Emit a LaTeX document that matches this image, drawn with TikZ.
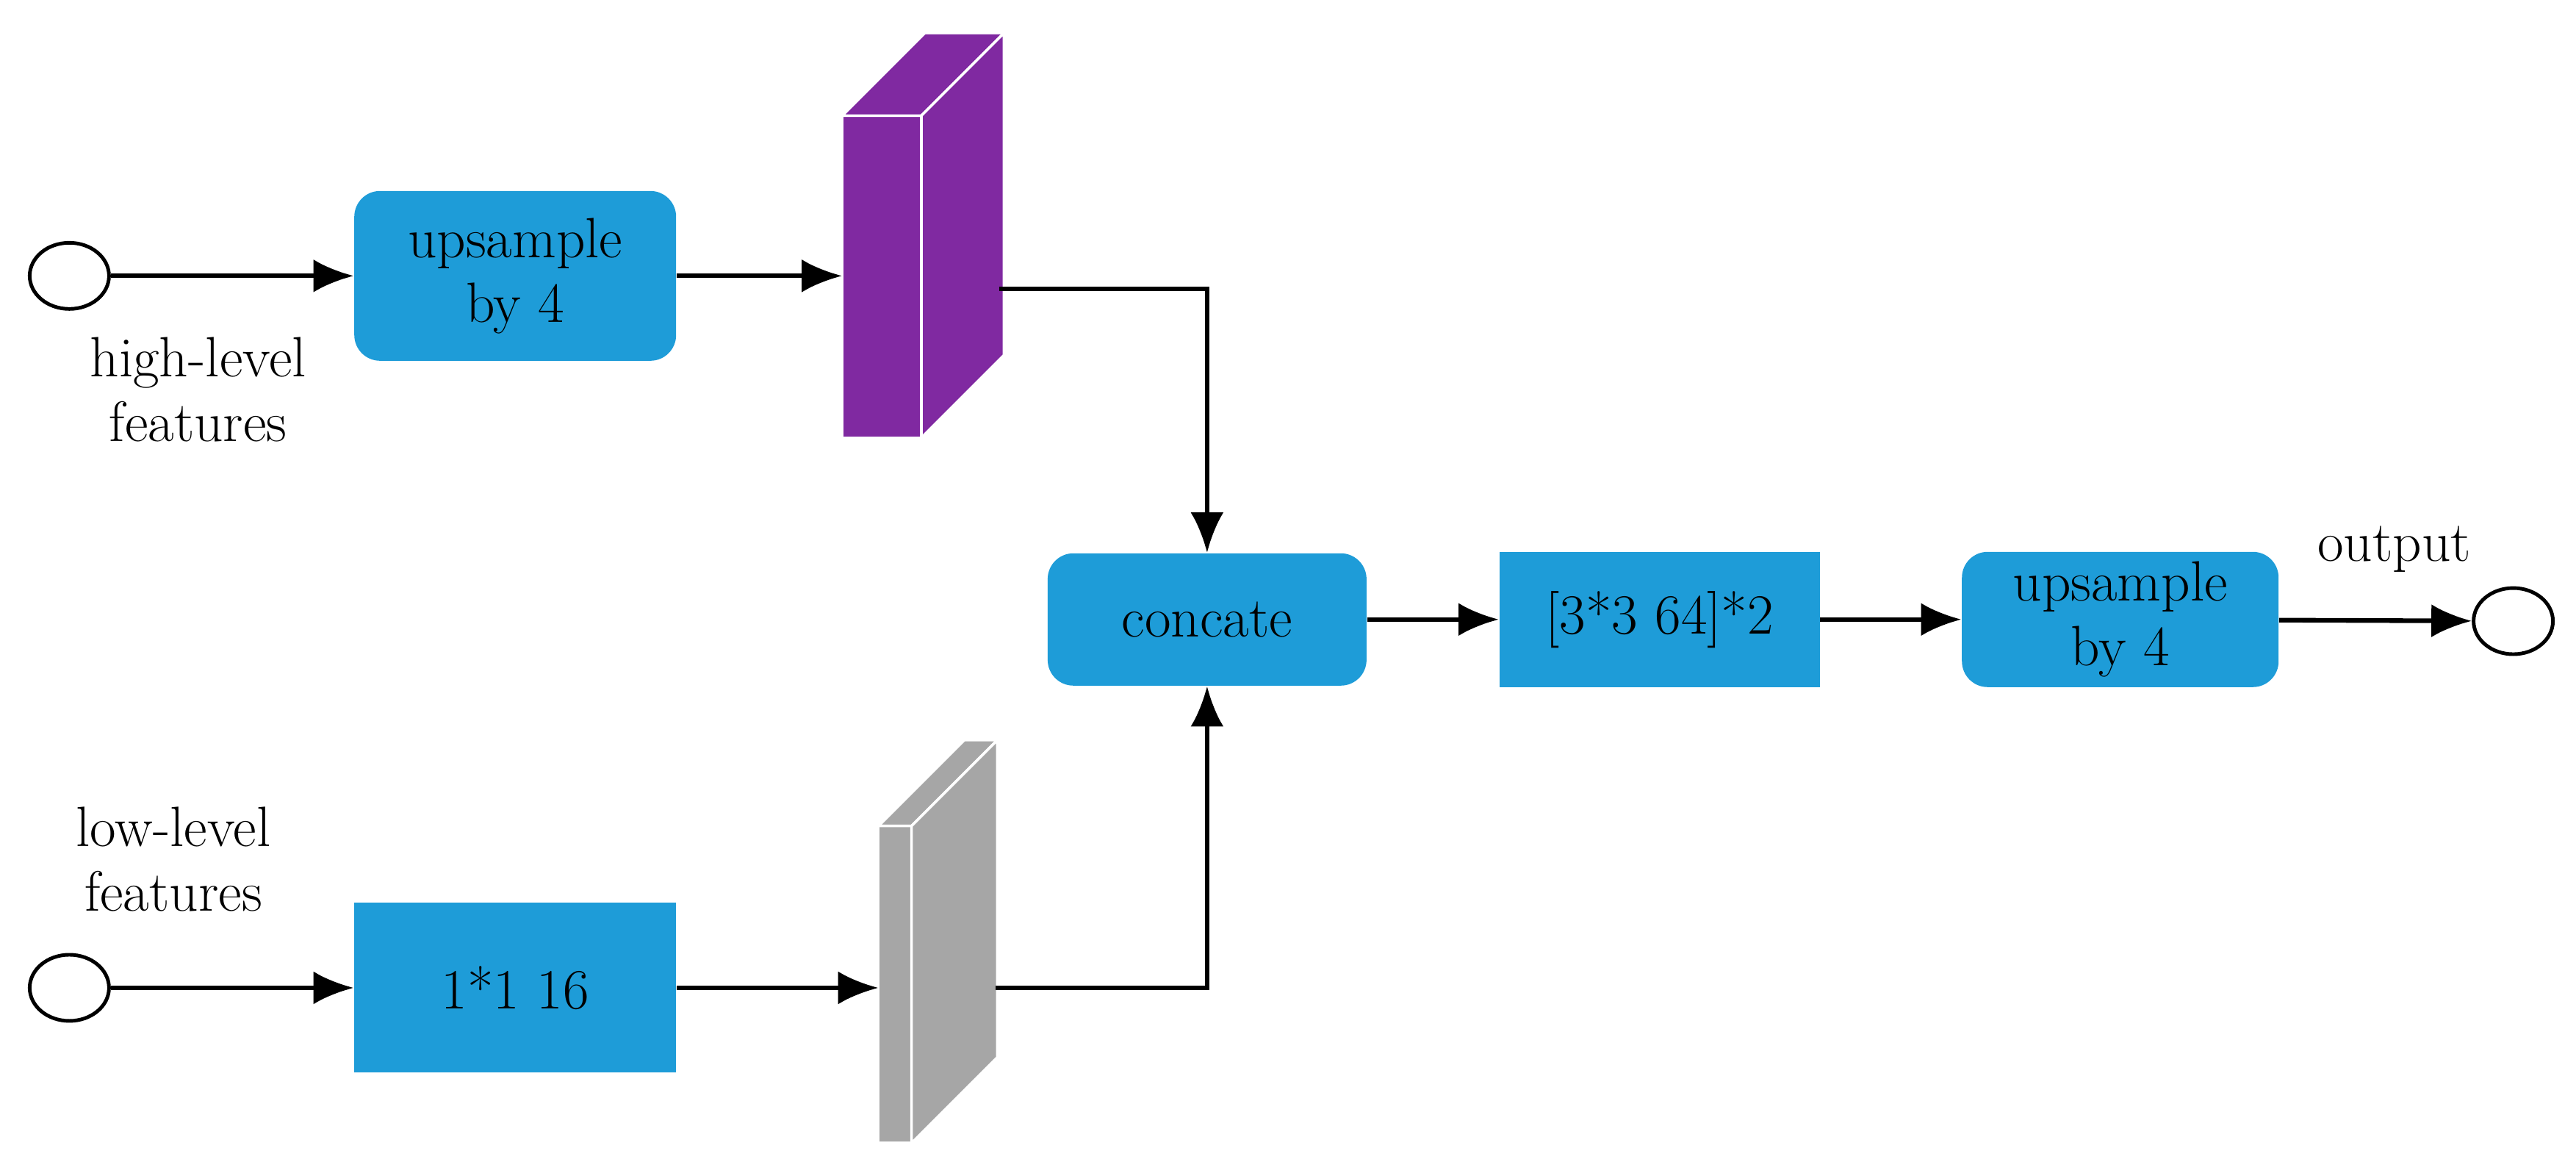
\documentclass[tikz,border=0pt]{standalone}
\usepackage{xcolor}
\usetikzlibrary{arrows.meta,shapes.geometric}
\definecolor{bx}{HTML}{1E9CD8}
\definecolor{pu}{HTML}{8029A1}
\definecolor{gr}{HTML}{A6A6A6}
\tikzset{
	blk/.style = {fill=bx,draw=none,font=\fontsize{22}{25}\selectfont,align=center,inner sep=0pt},
	rblk/.style = {blk,rounded corners=0.35cm},
	port/.style = {ellipse,draw,line width=1.4pt,minimum width=1.08cm,minimum height=0.9cm,inner sep=0pt},
	lbl/.style = {font=\fontsize{22}{25}\selectfont,align=center},
	con/.style = {line width=1.8pt,-{Latex[length=0.55cm,width=0.45cm]}},
}
\begin{document}
\begin{tikzpicture}[x=0.02247cm,y=-0.02247cm]
	\useasboundingbox (0,0) rectangle (1560,705);
	% inputs
	\node [port] (hin) at (42,167) {};
	\node [port] (lin) at (42,598) {};
	\node [lbl] at (120,236) {high-level\\features};
	\node [lbl] at (105,520) {low-level\\features};
	% blocks
	\node [rblk,minimum width=4.38cm,minimum height=2.31cm] (up1) at (312,167) {upsample\\by 4};
	\node [blk,minimum width=4.38cm,minimum height=2.31cm] (conv) at (312,598) {1*1 16};
	\node [rblk,minimum width=4.34cm,minimum height=1.8cm] (cat) at (731,375) {concate};
	\node [blk,minimum width=4.36cm,minimum height=1.84cm] (conv3) at (1005,375) {[3*3 64]*2};
	\node [rblk,minimum width=4.31cm,minimum height=1.84cm] (up2) at (1284,375) {upsample\\by 4};
	\node [port] (out) at (1522,376) {};
	\node [lbl,anchor=south] at (1450,352) {output};
	% feature maps
	\draw [fill=pu,draw=white,line width=1pt] (510,70) rectangle (558,265);
	\draw [fill=pu,draw=white,line width=1pt] (510,70) -- (560,20) -- (608,20) -- (558,70) -- cycle;
	\draw [fill=pu,draw=white,line width=1pt] (558,70) -- (608,20) -- (608,215) -- (558,265) -- cycle;
	\coordinate (hm) at (510,167);
	\coordinate (hmo) at (605,175);
	\draw [fill=gr,draw=white,line width=1pt] (532,500) rectangle (552,692);
	\draw [fill=gr,draw=white,line width=1pt] (532,500) -- (584,448) -- (604,448) -- (552,500) -- cycle;
	\draw [fill=gr,draw=white,line width=1pt] (552,500) -- (604,448) -- (604,640) -- (552,692) -- cycle;
	\coordinate (lm) at (532,598);
	\coordinate (lmo) at (603,598);
	% connectors
	\draw [con] (hin) -- (up1);
	\draw [con] (up1) -- (hm);
	\draw [con] (lin) -- (conv);
	\draw [con] (conv) -- (lm);
	\draw [con] (hmo) -| (cat.north);
	\draw [con] (lmo) -| (cat.south);
	\draw [con] (cat) -- (conv3);
	\draw [con] (conv3) -- (up2);
	\draw [con] (up2) -- (out);
\end{tikzpicture}
\end{document}
